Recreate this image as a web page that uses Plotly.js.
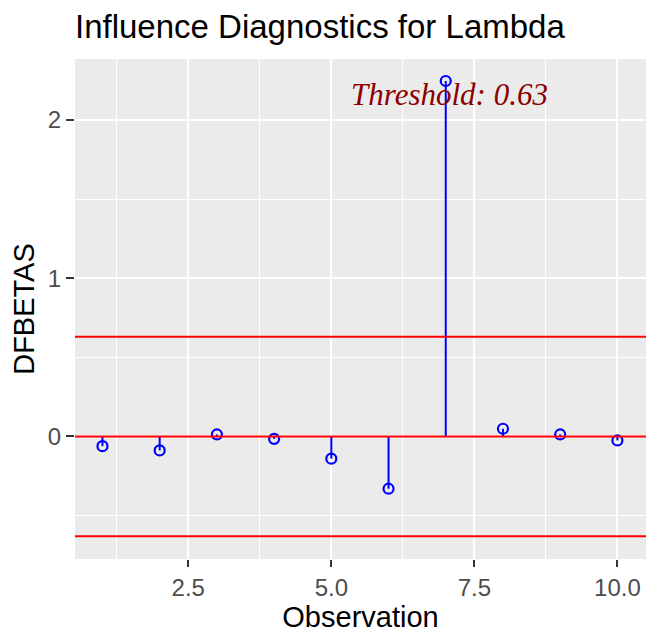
<!DOCTYPE html>
<html>
<head>
<meta charset="utf-8">
<script src="https://cdn.plot.ly/plotly-3.0.1.min.js"></script>
<style>html,body{margin:0;padding:0;background:#fff;}#chart{width:646px;height:641px;}</style>
</head>
<body>
<div id="chart"></div>
<script>
const observations = [1, 2, 3, 4, 5, 6, 7, 8, 9, 10];
const dfbetas = [-0.061, -0.088, 0.013, -0.015, -0.14, -0.33, 2.246, 0.049, 0.013, -0.025];
const threshold = 0.63;
const thresholdLabel = "Threshold: 0.63";

const stemX = [], stemY = [];
observations.forEach((o, i) => { stemX.push(o, o, null); stemY.push(0, dfbetas[i], null); });

const traces = [
  {x: stemX, y: stemY, mode: 'lines', type: 'scatter', line: {color: '#0000FF', width: 2}, hoverinfo: 'skip', showlegend: false},
  {x: observations, y: dfbetas, mode: 'markers', type: 'scatter',
   marker: {symbol: 'circle-open', size: 10, color: '#0000FF', line: {width: 2.2, color: '#0000FF'}}, showlegend: false}
];

const hline = (y) => ({type: 'line', xref: 'paper', x0: 0, x1: 1, yref: 'y', y0: y, y1: y,
  line: {color: '#FF0000', width: 2}, layer: 'above'});

const layout = {
  width: 646, height: 641,
  margin: {l: 75, r: 0, t: 59, b: 82},
  paper_bgcolor: '#FFFFFF', plot_bgcolor: '#EBEBEB',
  font: {family: 'Liberation Sans, Arial, sans-serif', color: '#000'},
  title: {text: 'Influence Diagnostics for Lambda', x: 75/646, xanchor: 'left', y: 1 - 26/641, yanchor: 'middle',
          font: {size: 33, color: '#000'}},
  xaxis: {range: [0.52, 10.5], tickmode: 'array', tickvals: [2.5, 5, 7.5, 10], ticktext: ['2.5', '5.0', '7.5', '10.0'],
          showgrid: true, gridcolor: '#FFFFFF', gridwidth: 2, zeroline: false,
          ticks: 'outside', ticklen: 7, tickwidth: 2, tickcolor: '#333333',
          tickfont: {size: 24, color: '#4D4D4D'},
          minor: {tickmode: 'array', tickvals: [1.25, 3.75, 6.25, 8.75], showgrid: true, gridcolor: '#FFFFFF', gridwidth: 1, ticks: ''},
          title: {text: 'Observation', font: {size: 29, color: '#000'}, standoff: 6}},
  yaxis: {range: [-0.774, 2.385], tickmode: 'array', tickvals: [0, 1, 2], ticktext: ['0', '1', '2'],
          showgrid: true, gridcolor: '#FFFFFF', gridwidth: 2, zeroline: false,
          ticks: 'outside', ticklen: 8, tickwidth: 2, tickcolor: '#333333',
          tickfont: {size: 24, color: '#4D4D4D'},
          minor: {tickmode: 'array', tickvals: [-0.5, 0.5, 1.5], showgrid: true, gridcolor: '#FFFFFF', gridwidth: 1, ticks: ''},
          title: {text: 'DFBETAS', font: {size: 29, color: '#000'}, standoff: 4}},
  shapes: [hline(threshold), hline(0), hline(-threshold)],
  annotations: [{x: 7.07, y: 2.16, xref: 'x', yref: 'y', text: '<i>' + thresholdLabel + '</i>', showarrow: false,
    font: {family: 'Liberation Serif, Times New Roman, serif', size: 31, color: '#8B0000'}}]
};

Plotly.newPlot('chart', traces, layout, {displayModeBar: false, staticPlot: true});
</script>
</body>
</html>
